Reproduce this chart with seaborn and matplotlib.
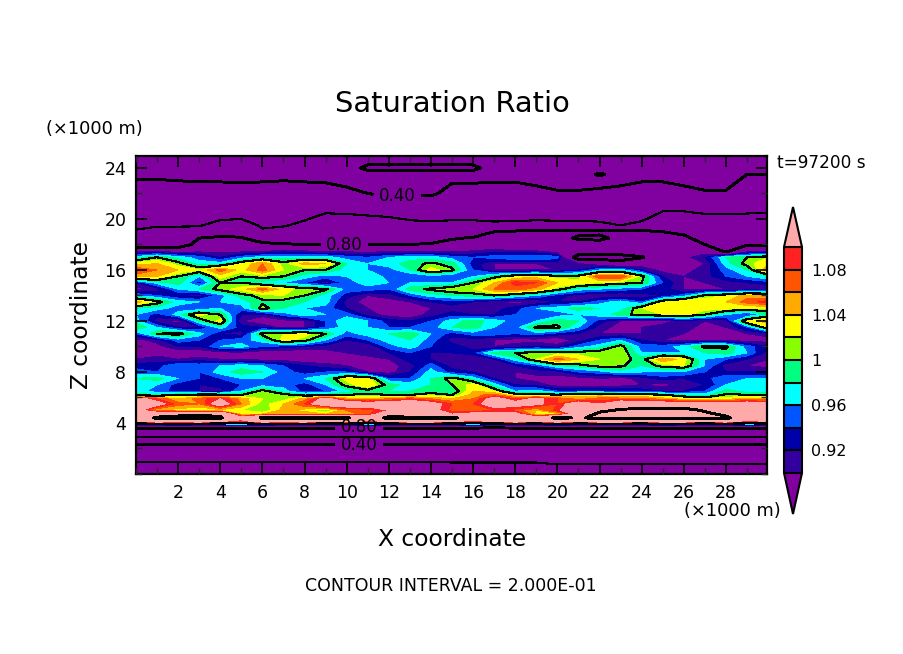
import matplotlib
matplotlib.use("Agg")
import matplotlib.pyplot as plt
import numpy as np
import pandas as pd
import seaborn as sns
from matplotlib.colors import ListedColormap, BoundaryNorm
from matplotlib.ticker import MultipleLocator

# values, saturation ratio in percent, one row per height
x_km = list(range(31))

r_25_0 = [34]*31
r_24_0 = [36,36,36,36,36,36,36,36,36,36,36,42,42,42,42,42,42,36,36,36,36,36,36,36,36,36,36,36,36,36,36]
r_23_5 = [38,38,38,38,38,38,38,38,38,38,36,37,37,37,37,37,37,38,38,37,36,36,41,37,38,38,37,36,36,40,40]
r_23_0 = [40.5,40.5,40,39.5,39.5,39,39.5,40,39.5,39,37,35,34,34,35,39,39,39.5,39.5,38,37,37,37,38,39.5,39.5,38,37,37,42,42]
r_22_0 = [45,45,45,45,45,45,45,45,45,45,43,40,37,38,38,44,44,44,44,43,41,41,42,43,45,45,43,41,41,46,46]
r_21_0 = [50,51,51,52,54,55,51,52,53,55,54,52,49,48,49,54,54,53,53,52,50,50,51,50,52,56,56,54,55,56,57]
r_20_0 = [55,56,56,57,59,60,55,57,59,64,64,63,62,59,58,59,59,58,58,58,57,57,57,56,58,66,66,64,63,63,63]
r_19_5 = [58,59,59,59,65,67,58,59,63,68,67,67,66,64,64,64,64,63,64,68,68,68,64,60,64,74,72,67,65,65,66]
r_19_0 = [61,64,64,66,74,74,62,65,69,72,71,71,71,70,69,72,73,80,82,84,84,84,84,84,84,80,78,71,68,69,70]
r_18_5 = [69,70,70,80,82,81,73,73,74,76,75,76,76,75,75,79,81,84,84,85,85,78,76,85,85,83,82,76,73,74,74]
r_18_0 = [73,73,72,85,86,86,83,81,80,80,79,80,80,80,81,84,85,87,87,88,88,88,88,88,88,86,85,80,77,79,79]
r_17_5 = [89,89,88,89,89,89,89,91,90,89,89,89,89,89,89,89,90,91,90,90,88,88,88,88,88,88,88,88,78,88,88]
r_17_0 = [97,100,97,95,92,95,97,97,97,97,95,94,96,97,97,95,94,95,96,96,95,75,75,75,79,88,89,92,98,100,102]
r_16_5 = [103,104,101,97,97,102,106,101,105,104,98,96,97,99,100.5,99,93,90,90,90,91,90,88,85,88,88,89,90,97,101,104]
r_16_0 = [108,106,104,102,107,103,107,102,100,100,97,96,95,98,103,100.5,94,90,90,90,90,92,96,97,92,89,89,91,95,98,106]
r_15_5 = [105,104,100,96,103,100,101,100,97,95,96,98,95,94,95,94,96,99,102,103,101,101,108,108,101,92,90,91,94,96,98]
r_15_0 = [92,97,99,93,100,100,97,96,94,91,95,97,96,96,96,96,100,104,109,108,104,103,102,101,100,94,90,90,91,92,93]
r_14_5 = [89,91,96,98,101,103,107,103,101,100.5,95,95,94,99,100.5,102,102,106,107,105,101,97,96,95,94,93,90,89,90,90,90]
r_14_0 = [96,94,92,91,95,99,101,102,100,97,93,90,91,94,97,98,99,100,98,96,93,91,90,90,91,92,95,100.5,102,105,104]
r_13_5 = [105,101,97,96,96,97,99.5,99,98,97,91,89,89,90,92,93,92,90,89,90,92,92,95,97,94,102,104,104,104,107,109]
r_13_0 = [98,97,95,94,96,95,101,98,96,95,92,90,90,89,90,91,90,91,93,96,97,99,98,97,102,104,104,103,103,102,102]
r_12_5 = [96,93,97,103,100,92,91,95,97,96,95,91,89,88,91,93,92,92,94,96,95,96,97,99,101,102,103,100,96,93,98]
r_12_0 = [97,91,89,98,103,90,88,89,90,94,98,96,93,92,94,97,99,97,95,96,99,98,93,90,90,89,91,90,91,103,105]
r_11_5 = [100,96,92,92,97,93,92,89,90,94,97,96,94,94,95,98,99,96,95,100.5,100.5,96,91,89,90,91,91,89,90,94,102]
r_11_0 = [94,100,101,97,92,91,101,102,103,100,95,97,98,99.5,96,93,95,95,94,95,93,92,90,90,90,91,90,89,88,90,91]
r_10_5 = [89,91,95,94,94,95,97,103,101,96,92,94,97,98,95,91,91,90,89,89,88,91,94,96,92,90,89,90,89,89,89]
r_10_0 = [88,89,92,92,96,97,94,93,92,91,91,90,95,97,94,93,91,90,91,92,91,95,97,101,95,95,97,100.5,100.5,95,92]
r_09_5 = [88,89,88,88,89,89,88,88,88,89,90,91,92,94,92,92,93,99,100,101,101,101,101.5,102,96,96,96,98,99,96,91]
r_09_0 = [90,91,90,91,90,90,89,89,88,88,89,89,90,93,92,90,90,92,97,102,107,104,102,101,99,106,103,96,94,92,90]
r_08_5 = [93,93,96,95,96,97,96,94,92,91,90,89,89,91,95,91,91,90,92,94,98,99,101,100.5,98,101,102,96,91,90,89]
r_08_0 = [95,94,96,94,97,99,98,95,93,94,94,90,89,92,97,93,92,91,90,91,91,94,95,97,96,96,96,94,92,92,92]
r_07_5 = [98,99,96,94,94,96,96,96,96,98,103,103,94,94,98,101,97,92,90,89,89,89,90,89,91,93,92,93,96,96,96]
r_07_0 = [98,96,93,92,93,94,95,95,93,96,101,104,99,97,98,100,103,97,92,91,89,89,89,89,90,89,91,92,96,97,98]
r_06_5 = [97,95,93,92,91,96,101,97,93,94,97,99,98,98,99,98,104,102,96,97,94,94,94,94,93,92,92,94,99,97,96]
r_06_2 = [99,98,100,101,101,100,102,101,99,99,100,100.5,100,100,101,100,105,107,102,101,100.5,103,103,102,102,100.5,98,97,100.5,100,100.5]
r_05_9 = [112,108,104,107,110,105,102,101,105,112,105,104,106,108,106,104,106,112,108,111,108,105,107,107,107,105,103,102,103,105,104]
r_05_5 = [112,112,107,106,113,106,101,104,108,114,114,113,113,114,112,108,108,113,112,111,108,113,110,114,113,113,113,113,112,113,112]
r_05_0 = [112,104,103,102,103,102,100,105,103,100,106,107,110,112,112,107,106,108,107,104,109,116,118,121,123,123,123,119,114,113,114]
r_04_7 = [114,116,118,119,118,103,104,105,106,104,105,107,115,113,113,110,112,112,112,103,103,113,122,123,123,123,123,122,118,115,116]
r_04_4 = [115,121,122,123,121,112,121,122,122,121,121,114,122,122,122,122,114,112,114,113,122,119,122,121,121,122,122,122,122,113,114]
r_04_1 = [110,112,111,112,110,108,112,111,112,110,111,108,110,112,112,110,108,110,112,110,112,110,112,112,110,112,112,110,112,108,110]
r_03_85 = [92,92,93,92,92,92,93,92,92,92,92,93,92,92,92,92,93,92,92,92,93,92,92,92,92,93,92,92,92,93,92]
r_03_6 = [80,80,80,80,80,80,80,80,80,81,80,80,80,81,80,80,80,79,80,80,80,80,80,80,80,80,80,81,80,80,80]
r_02_9 = [61,61,61,61,61,61,61,60,60,60,60,60,60,60,60,60,61,61,61,61,60,60,60,60,60,60,61,60,60,60,60]
r_02_35 = [40,40,40,41,41,41,41,40,40,40,40,40,40,40,41,41,40,40,41,41,40,40,40,41,41,40,40,40,40,40,40]
r_00_9 = [19,19,19,19,19,19,19,19,19,19,19,19,19,19,19,20,20,20,20,20,21,21,21,21,21,21,21,21,21,21,21]
r_00_0 = [15]*31

z_km = [0, 0.9, 2.35, 2.9, 3.6, 3.85, 4.1, 4.4, 4.7, 5, 5.5, 5.9, 6.2, 6.5, 7, 7.5, 8, 8.5, 9, 9.5, 10,
        10.5, 11, 11.5, 12, 12.5, 13, 13.5, 14, 14.5, 15, 15.5, 16, 16.5, 17, 17.5, 18, 18.5, 19, 19.5,
        20, 21, 22, 23, 23.5, 24, 25]
rows = [r_00_0, r_00_9, r_02_35, r_02_9, r_03_6, r_03_85, r_04_1, r_04_4, r_04_7, r_05_0, r_05_5, r_05_9,
        r_06_2, r_06_5, r_07_0, r_07_5, r_08_0, r_08_5, r_09_0, r_09_5, r_10_0, r_10_5, r_11_0, r_11_5,
        r_12_0, r_12_5, r_13_0, r_13_5, r_14_0, r_14_5, r_15_0, r_15_5, r_16_0, r_16_5, r_17_0, r_17_5,
        r_18_0, r_18_5, r_19_0, r_19_5, r_20_0, r_21_0, r_22_0, r_23_0, r_23_5, r_24_0, r_25_0]

fill_levels = [0.90, 0.92, 0.94, 0.96, 0.98, 1.00, 1.02, 1.04, 1.06, 1.08, 1.10]
line_levels = [0.2, 0.4, 0.6, 0.8, 1.0, 1.2]
bar_ticks = [0.92, 0.96, 1.0, 1.04, 1.08]
bar_labels = ["0.92", "0.96", "1", "1.04", "1.08"]
band_colors = ["#3300A0", "#0000A8", "#0055FF", "#00FFFF", "#00FF80",
               "#88FF00", "#FFFF00", "#FFAA00", "#FF5500", "#FF2222"]
under_color = "#8000A0"
over_color = "#FFAAAA"

sns.set_theme(style="ticks")
plt.rcParams["font.family"] = ["DejaVu Sans"]

ratio = pd.DataFrame(rows, index=z_km, columns=x_km) / 100.0

W, H = 904, 654
fig = plt.figure(figsize=(W / 100, H / 100), dpi=100, facecolor="white")
ax = fig.add_axes([136 / W, 1 - 474 / H, 631 / W, 318 / H])
ax.set_axisbelow(False)

cmap = ListedColormap(sns.color_palette(band_colors))
cmap.set_under(under_color)
cmap.set_over(over_color)
norm = BoundaryNorm(fill_levels, cmap.N)

cf = ax.contourf(ratio.columns, ratio.index, ratio.values, levels=fill_levels, cmap=cmap, norm=norm,
                 extend="both", antialiased=False)
cs = ax.contour(ratio.columns, ratio.index, ratio.values, levels=line_levels, colors="black",
                linewidths=[0.8, 1.4, 0.8, 1.4, 0.8, 1.4], linestyles="solid", antialiased=False)
labels = ax.clabel(cs, fmt="%.2f", fontsize=12, inline=True, inline_spacing=6,
                   manual=[(12.4, 21.65), (9.9, 17.95), (10.6, 3.6), (10.6, 2.35)])
for t in labels:
    t.set_rotation(0)
    t.set_color("black")
# the two low labels sit almost on top of each other, nudge them apart
labels[2].set_y(3.72)
labels[3].set_y(2.25)

ax.set_xlim(0, 29.95)
ax.set_ylim(0, 24.94)
ax.xaxis.set_major_locator(MultipleLocator(2))
ax.xaxis.set_minor_locator(MultipleLocator(1))
ax.yaxis.set_major_locator(MultipleLocator(4))
ax.yaxis.set_minor_locator(MultipleLocator(2))
ax.set_xticks(list(range(2, 30, 2)))
ax.set_yticks(list(range(4, 25, 4)))
ax.tick_params(which="major", direction="in", length=8, width=1.2, top=True, right=True,
               labelsize=12.5, pad=7, colors="black")
ax.tick_params(which="minor", direction="in", length=4, width=1.0, top=True, right=True)
for spine in ax.spines.values():
    spine.set_linewidth(1.6)
    spine.set_color("black")

cax = fig.add_axes([784 / W, 1 - 514 / H, 18 / W, 307 / H])
cbar = fig.colorbar(cf, cax=cax, ticks=bar_ticks, drawedges=True, extendfrac=(41 / 226, 40 / 226))
cbar.ax.set_yticklabels(bar_labels)
cbar.ax.minorticks_off()
cbar.ax.tick_params(which="both", length=0, labelsize=11.5, pad=6.5, colors="black")
cbar.dividers.set_color("black")
cbar.dividers.set_linewidth(1.5)
cbar.outline.set_color("black")
cbar.outline.set_linewidth(1.5)

def put(x, y, s, size, **kw):
    fig.text(x / W, 1 - y / H, s, fontsize=size, color="black", va="center", **kw)

put(452, 104, "Saturation Ratio", 20.8, ha="center")
put(46, 129, "(×1000 m)", 12.8, ha="left")
put(781, 511, "(×1000 m)", 12.8, ha="right")
put(777, 163, "t=97200 s", 12.2, ha="left")
put(452, 539, "X coordinate", 16.8, ha="center")
put(82, 315, "Z coordinate", 16.8, ha="center", rotation=90)
put(451, 586, "CONTOUR INTERVAL = 2.000E-01", 12.5, ha="center")

fig.savefig("out.png", dpi=100)
